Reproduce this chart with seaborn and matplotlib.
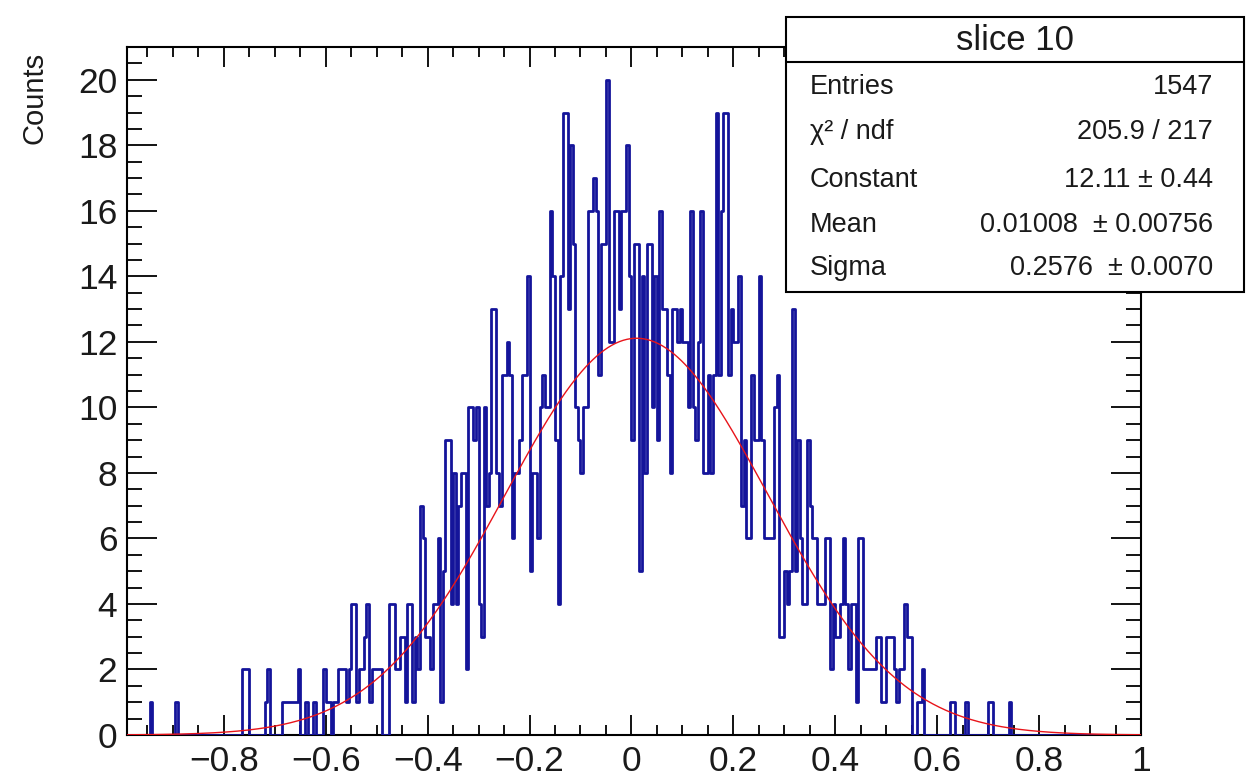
import numpy as np
import pandas as pd
import matplotlib
matplotlib.use("Agg")
import matplotlib.pyplot as plt
import seaborn as sns
from matplotlib.patches import Rectangle
from matplotlib.lines import Line2D
from matplotlib.ticker import MultipleLocator, FuncFormatter

# ---------------- data ----------------
bin_lo, bin_hi, n_bins = -1.0, 1.0, 400
counts = [
    0, 0, 0, 0, 0, 0, 0, 0, 0, 0, 0, 1, 0, 0, 0, 0, 0, 0, 0, 0,
    0, 1, 0, 0, 0, 0, 0, 0, 0, 0, 0, 0, 0, 0, 0, 0, 0, 0, 0, 0,
    0, 0, 0, 0, 0, 0, 0, 2, 2, 2, 0, 0, 0, 0, 0, 0, 1, 2, 0, 0,
    0, 0, 0, 1, 1, 1, 1, 1, 1, 2, 0, 0, 1, 0, 0, 1, 0, 0, 0, 2,
    1, 1, 0, 1, 1, 2, 2, 2, 1, 2, 4, 4, 1, 2, 2, 3, 4, 1, 2, 2,
    2, 2, 0, 0, 0, 4, 4, 2, 2, 3, 3, 1, 4, 4, 1, 3, 2, 7, 6, 3,
    3, 2, 4, 4, 6, 1, 5, 9, 9, 4, 8, 4, 7, 8, 8, 2, 10, 10, 9, 10,
    4, 3, 10, 7, 8, 13, 13, 8, 7, 11, 11, 12, 11, 6, 8, 8, 9, 11, 11, 14,
    5, 8, 8, 6, 10, 11, 10, 10, 16, 14, 9, 4, 14, 19, 19, 13, 18, 15, 10, 9,
    8, 10, 10, 16, 16, 17, 16, 11, 15, 15, 20, 12, 12, 16, 16, 13, 16, 16, 18, 14,
    9, 15, 15, 5, 14, 8, 15, 15, 10, 14, 9, 16, 13, 13, 11, 8, 13, 13, 12, 13,
    12, 12, 10, 16, 10, 9, 12, 16, 8, 8, 11, 8, 11, 19, 11, 16, 19, 19, 11, 13,
    12, 12, 14, 7, 9, 6, 6, 11, 9, 9, 14, 9, 6, 6, 6, 6, 10, 11, 3, 3,
    5, 4, 5, 13, 5, 9, 6, 4, 4, 9, 7, 6, 6, 4, 4, 4, 6, 6, 2, 4,
    3, 3, 4, 6, 4, 2, 4, 4, 1, 6, 6, 2, 2, 2, 2, 2, 3, 3, 1, 1,
    3, 3, 3, 2, 1, 2, 2, 4, 3, 3, 0, 0, 1, 1, 2, 0, 0, 0, 0, 0,
    0, 0, 0, 0, 0, 1, 1, 0, 0, 0, 0, 1, 0, 0, 0, 0, 0, 0, 0, 0,
    1, 1, 0, 0, 0, 0, 0, 0, 1, 0, 0, 0, 0, 0, 0, 0, 0, 0, 0, 0,
    0, 0, 0, 0, 0, 0, 0, 0, 0, 0, 0, 0, 0, 0, 0, 0, 0, 0, 0, 0,
    0, 0, 0, 0, 0, 0, 0, 0, 0, 0, 0, 0, 0, 0, 0, 0, 0, 0, 0, 0,
]
fit_constant, fit_mean, fit_sigma = 12.11, 0.01008, 0.2576
x_view = (-0.99, 1.0)
y_view = (0, 21)
x_ticks = [-0.8, -0.6, -0.4, -0.2, 0.0, 0.2, 0.4, 0.6, 0.8, 1.0]
y_ticks = [0, 2, 4, 6, 8, 10, 12, 14, 16, 18, 20]
y_title = "Counts"
stats_title = "slice 10"
stats_labels = ["Entries", "χ² / ndf", "Constant", "Mean", "Sigma"]
stats_values = ["1547", "205.9 / 217", "12.11 ± 0.44",
                "0.01008  ± 0.00756", "0.2576  ± 0.0070"]

# ---------------- style ----------------
sns.set_style("ticks")
plt.rcParams['font.family'] = ['Liberation Sans', 'DejaVu Sans']
plt.rcParams['axes.unicode_minus'] = True

W, H = 1250, 784
fig = plt.figure(figsize=(W / 100, H / 100), dpi=100)
fig.patch.set_facecolor("white")
ax_l, ax_r, ax_t, ax_b = 127, 1141, 47, 735
ax = fig.add_axes([ax_l / W, 1 - ax_b / H, (ax_r - ax_l) / W, (ax_b - ax_t) / H])
ax.set_facecolor("white")

edges = np.linspace(bin_lo, bin_hi, n_bins + 1)
centers = 0.5 * (edges[:-1] + edges[1:])
df = pd.DataFrame({"x": centers, "w": counts})
sns.histplot(data=df, x="x", weights="w", bins=[float(e) for e in edges],
             element="step", fill=False, color="#14149a", linewidth=2.0,
             ax=ax, zorder=3)

xf = np.linspace(x_view[0], x_view[1], 800)
fit_df = pd.DataFrame({"x": xf,
                       "y": fit_constant * np.exp(-0.5 * ((xf - fit_mean) / fit_sigma) ** 2)})
sns.lineplot(data=fit_df, x="x", y="y", color="#e8141a", linewidth=1.0, ax=ax, zorder=4)

ax.set_xlim(*x_view)
ax.set_ylim(*y_view)
ax.set_xticks(x_ticks)
ax.set_yticks(y_ticks)
ax.xaxis.set_minor_locator(MultipleLocator(0.05))
ax.yaxis.set_minor_locator(MultipleLocator(0.5))
ax.xaxis.set_major_formatter(FuncFormatter(lambda v, p: ("%g" % round(v, 6)).replace("-", "\u2212")))
ax.yaxis.set_major_formatter(FuncFormatter(lambda v, p: "%d" % v))

for s in ax.spines.values():
    s.set_visible(True)
    s.set_linewidth(1.5)
    s.set_color("black")

ax.tick_params(which="both", direction="in", top=True, right=True, colors="black",
               width=1.3, labelcolor="#1a1a1a", labelsize=25.5)
ax.tick_params(axis="x", which="major", length=14.5, pad=7)
ax.tick_params(axis="x", which="minor", length=7.2)
ax.tick_params(axis="y", which="major", length=21.5, pad=7)
ax.tick_params(axis="y", which="minor", length=10.8)

ax.set_xlabel("")
ax.set_ylabel(y_title, fontsize=21, color="#1a1a1a", loc="top")
ax.yaxis.set_label_coords(-0.077, 0.993)

# ---------------- stats box ----------------
bx_l, bx_r, bx_t, bx_b, bx_sep = 786, 1244, 17, 292, 62
box = Rectangle((bx_l / W, 1 - bx_b / H), (bx_r - bx_l) / W, (bx_b - bx_t) / H,
                transform=fig.transFigure, facecolor="white", edgecolor="black",
                linewidth=1.5, zorder=10)
fig.add_artist(box)
fig.add_artist(Line2D([bx_l / W, bx_r / W], [1 - bx_sep / H, 1 - bx_sep / H],
                      transform=fig.transFigure, color="black", linewidth=1.5, zorder=11))
fig.text((bx_l + bx_r) / 2 / W, 1 - 41 / H, stats_title, ha="center", va="center",
         fontsize=25, color="#1a1a1a", zorder=12)
row_y = [87, 132, 180, 225, 268]
for lab, val, yy in zip(stats_labels, stats_values, row_y):
    fig.text(810 / W, 1 - yy / H, lab, ha="left", va="center", fontsize=19.5,
             color="#1a1a1a", zorder=12)
    fig.text(1213 / W, 1 - yy / H, val, ha="right", va="center", fontsize=19.5,
             color="#1a1a1a", zorder=12)

fig.savefig("out.png", dpi=100, facecolor="white")
